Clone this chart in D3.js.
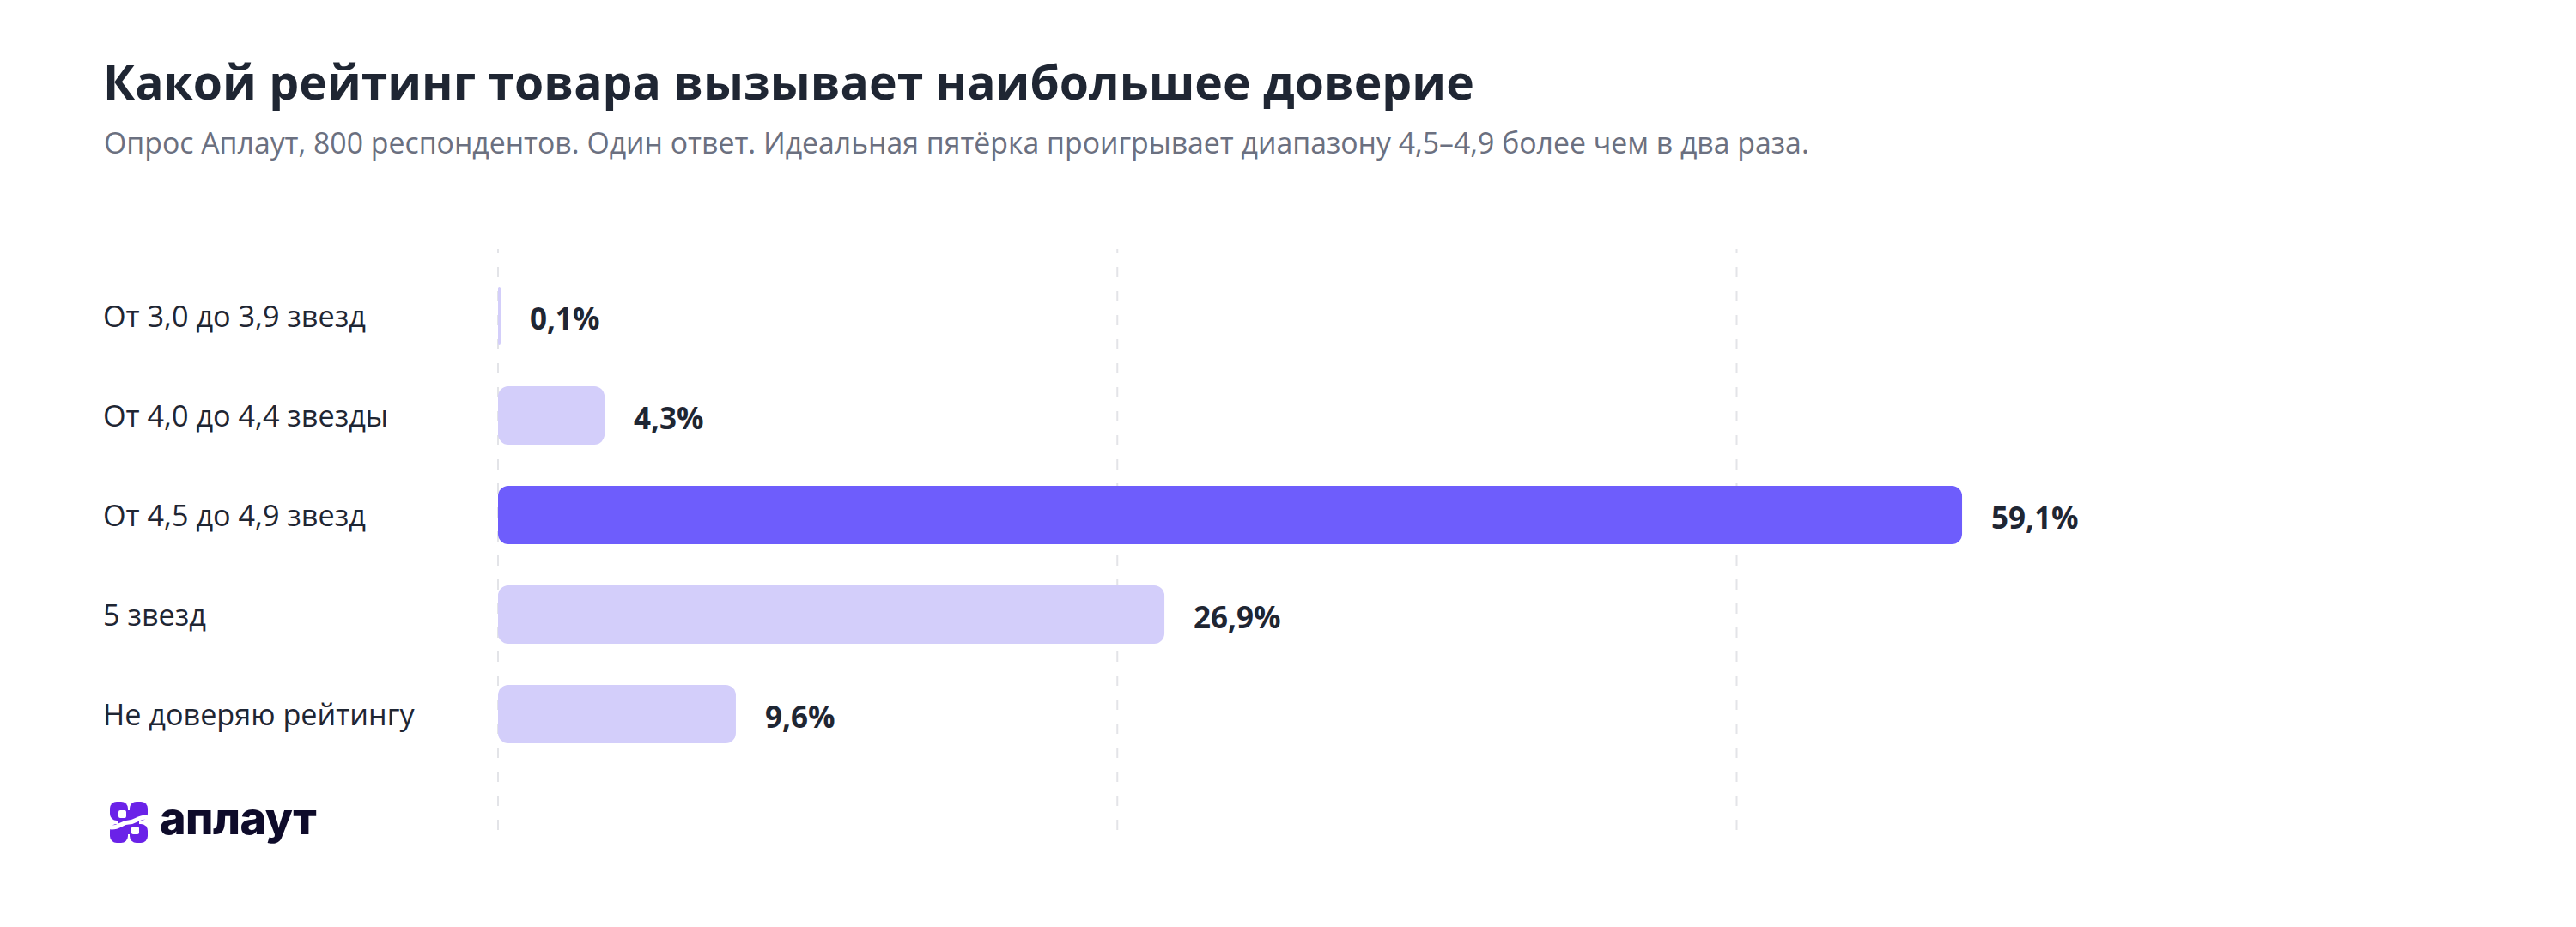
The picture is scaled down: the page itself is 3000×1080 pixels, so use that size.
<!DOCTYPE html>
<html>
<head>
<meta charset="utf-8">
<script src="https://cdn.jsdelivr.net/npm/d3@7"></script>
<style>
  html, body { margin: 0; padding: 0; background: #ffffff; }
  svg { display: block; }
</style>
</head>
<body>
<svg id="chart" width="3000" height="1080"></svg>
<script>
const titleText = "Какой рейтинг товара вызывает наибольшее доверие";
const subtitleText = "Опрос Аплаут, 800 респондентов. Один ответ. Идеальная пятёрка проигрывает диапазону 4,5–4,9 более чем в два раза.";
const categories = ["От 3,0 до 3,9 звезд", "От 4,0 до 4,4 звезды", "От 4,5 до 4,9 звезд", "5 звезд", "Не доверяю рейтингу"];
const values = [0.1, 4.3, 59.1, 26.9, 9.6];
const highlight = [false, false, true, false, false];
const gridTicks = [0, 25, 50];
const logoText = "аплаут";

const svg = d3.select("#chart");
svg.append("rect").attr("width", 3000).attr("height", 1080).attr("fill", "#ffffff");

const font = "'Open Sans', 'Noto Sans', sans-serif";

// Title & subtitle
svg.append("text")
  .attr("x", 120).attr("y", 116)
  .attr("font-family", font).attr("font-weight", 700).attr("font-size", 55.3)
  .attr("fill", "#1f2633")
  .text(titleText);
svg.append("text")
  .attr("x", 121).attr("y", 179)
  .attr("font-family", font).attr("font-weight", 400).attr("font-size", 33.8)
  .attr("fill", "#6b7080")
  .text(subtitleText);

// Scales
const x = d3.scaleLinear().domain([0, 75]).range([580, 580 + 75 * 28.85]);
const pIn = 48 / 116;
const y = d3.scaleBand().domain(categories).range([310, 890]).paddingInner(pIn).paddingOuter(pIn / 2);

// Gridlines
const grid = svg.append("g");
grid.selectAll("line").data(gridTicks).join("line")
  .attr("x1", d => x(d)).attr("x2", d => x(d))
  .attr("y1", 290).attr("y2", 968)
  .attr("stroke", "#e3e4e8").attr("stroke-width", 2)
  .attr("stroke-dasharray", "12,16").attr("stroke-dashoffset", 7);

// Category labels
svg.append("g").selectAll("text").data(categories).join("text")
  .attr("x", 120)
  .attr("y", d => y(d) + y.bandwidth() / 2 + 13)
  .attr("font-family", font).attr("font-size", 34.2)
  .attr("fill", "#1f2633")
  .text(d => d);

// Bars
const data = categories.map((c, i) => ({ c, v: values[i], h: highlight[i] }));
svg.append("g").selectAll("rect").data(data).join("rect")
  .attr("x", x(0))
  .attr("y", d => y(d.c))
  .attr("width", d => Math.max(3, x(d.v) - x(0)))
  .attr("height", y.bandwidth())
  .attr("rx", d => Math.min(12, (x(d.v) - x(0)) / 2 + 0.5))
  .attr("fill", d => d.h ? "#6e5dfc" : "#d3cefa");

// Value labels
svg.append("g").selectAll("text").data(data).join("text")
  .attr("x", d => x(d.v) + 34)
  .attr("y", d => y(d.c) + y.bandwidth() / 2 + 16)
  .attr("font-family", font).attr("font-weight", 700).attr("font-size", 35)
  .attr("fill", "#1f2633")
  .text(d => d3.format(".1f")(d.v).replace(".", ",") + "%");

// Logo
const logo = svg.append("g").attr("transform", "translate(128,934)");
logo.append("rect").attr("x", 0).attr("y", 0).attr("width", 21).attr("height", 22).attr("rx", 8).attr("fill", "#6a22e8");
logo.append("rect").attr("x", 23).attr("y", 0).attr("width", 21).attr("height", 22).attr("rx", 8).attr("fill", "#6a22e8");
logo.append("rect").attr("x", 0).attr("y", 26).attr("width", 21).attr("height", 22).attr("rx", 8).attr("fill", "#6a22e8");
logo.append("rect").attr("x", 23).attr("y", 26).attr("width", 21).attr("height", 22).attr("rx", 8).attr("fill", "#6a22e8");
logo.append("rect").attr("x", 10).attr("y", 10).attr("width", 24).attr("height", 28).attr("fill", "#6a22e8");
logo.append("path")
  .attr("d", "M2,30 C12,30 14,24 22,24 C30,24 32,18 42,18")
  .attr("fill", "none").attr("stroke", "#ffffff").attr("stroke-width", 5).attr("stroke-linecap", "round");
logo.append("rect").attr("x", 10).attr("y", 10).attr("width", 9).attr("height", 9).attr("rx", 2).attr("fill", "#ffffff");
logo.append("rect").attr("x", 25).attr("y", 29).attr("width", 9).attr("height", 9).attr("rx", 2).attr("fill", "#ffffff");
svg.append("text")
  .attr("x", 186).attr("y", 972)
  .attr("font-family", "Inter, sans-serif").attr("font-weight", 800).attr("font-size", 52)
  .attr("letter-spacing", -0.5)
  .attr("fill", "#0e0b2a")
  .text(logoText);
</script>
</body>
</html>
